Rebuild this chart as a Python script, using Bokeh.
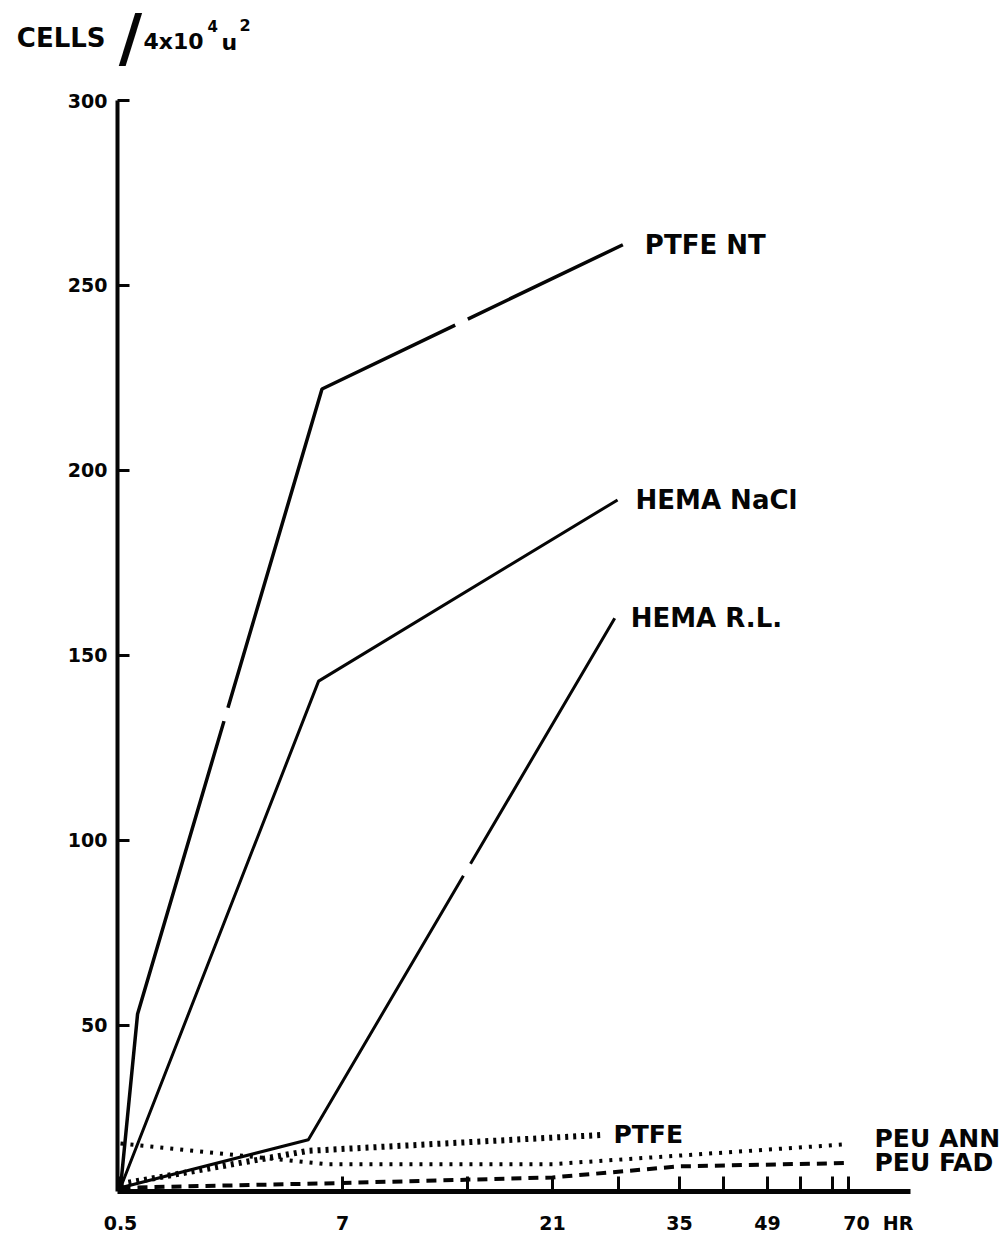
import numpy as np
from bokeh.plotting import figure
from bokeh.layouts import column
from bokeh.models import Range1d, FixedTicker, Label
from bokeh.embed import file_html
from bokeh.resources import INLINE

# ---------------- data ----------------
# hand-drawn, non-uniform time axis: breakpoints (hours) and their axis units
HOUR_BREAKS = [0.5, 7, 14, 21, 28, 35, 42, 49, 56, 63, 70]
AXIS_UNITS = [0, 222, 347, 432, 498, 559, 603, 647, 680, 712, 728]
NB = "\u00a0"
TICK_LABELS = {0.5: "0.5", 7: "7", 21: "21", 35: "35", 49: "49",
               70: NB * 9 + "70" + NB * 2 + "HR"}
Y_TICKS = [50, 100, 150, 200, 250, 300]

ptfe_nt_h = [0.5, 1.0, 6.4, 28.5]
ptfe_nt_v = [6, 53, 222, 261]

hema_nacl_h = [0.5, 6.3, 27.9]
hema_nacl_v = [6, 143, 192]

hema_rl_h = [0.5, 6.0, 27.6]
hema_rl_v = [6, 19, 160]

ptfe_h = [0.5, 6.0, 26.3]
ptfe_v = [7, 16, 20.3]

peu_ann_h = [0.5, 6.5, 21, 70]
peu_ann_v = [18, 12.4, 12.4, 17.8]

peu_fad_h = [0.5, 7, 21, 35, 70]
peu_fad_v = [6, 7.3, 8.8, 11.8, 12.7]

series_names = ["PTFE NT", "HEMA NaCl", "HEMA R.L.", "PTFE", "PEU ANN", "PEU FAD"]


def hx(h):
    return np.interp(h, HOUR_BREAKS, AXIS_UNITS)


FONT = "DejaVu Sans"
INK = "#050505"

# ---------------- layout geometry (page pixels) ----------------
HEAD_H = 88             # strip holding the y-axis unit title
FRAME_L, FRAME_T, FRAME_B = 117, 100, 1191
AXIS_END = 910          # where the drawn x axis line stops
FRAME_R = 1000          # frame continues right so end labels are not clipped
RIGHT_PAD = 4
X0 = -3
X1 = X0 + (FRAME_R - FRAME_L)
Y0, Y1 = 5, 300

# ---------------- header strip with the unit title ----------------
head = figure(
    frame_width=FRAME_R - FRAME_L, frame_height=HEAD_H,
    x_range=Range1d(FRAME_L, FRAME_R), y_range=Range1d(HEAD_H, 0),
    x_axis_location=None,
    output_backend="svg", toolbar_location=None,
    min_border_left=FRAME_L, min_border_right=RIGHT_PAD,
    min_border_top=0, min_border_bottom=0,
)
head.outline_line_color = None
head.grid.visible = False
# "CELLS" is set as the single label of the strip's (otherwise invisible) left axis
head.yaxis.ticker = FixedTicker(ticks=[37])
head.yaxis.major_label_overrides = {37: "CELLS"}
head.yaxis.axis_line_color = None
head.yaxis.major_tick_line_color = None
head.yaxis.minor_tick_line_color = None
head.yaxis.major_tick_out = 0
head.yaxis.major_tick_in = 0
head.yaxis.major_label_standoff = 12
head.yaxis.major_label_text_font = FONT
head.yaxis.major_label_text_font_style = "bold"
head.yaxis.major_label_text_font_size = "26px"
head.yaxis.major_label_text_color = INK

title_parts = [
    ("/", 130, 37, "64px", "center"),
    ("4x10", 143, 41, "22px", "left"),
    ("4", 207, 25, "15px", "left"),
    ("u", 221, 42, "22px", "left"),
    ("2", 239, 24, "16px", "left"),
]
for txt, px, py, fs, al in title_parts:
    head.add_layout(Label(
        x=px, y=py, text=txt, text_font=FONT, text_font_style="bold",
        text_font_size=fs, text_baseline="middle", text_align=al, text_color=INK,
    ))

# ---------------- main chart ----------------
p = figure(
    frame_width=FRAME_R - FRAME_L,
    frame_height=FRAME_B - FRAME_T,
    x_range=Range1d(X0, X1),
    y_range=Range1d(Y0, Y1),
    output_backend="svg",
    toolbar_location=None,
    min_border_left=FRAME_L,
    min_border_top=FRAME_T - HEAD_H,
    min_border_bottom=50,
    min_border_right=RIGHT_PAD,
)
p.outline_line_color = None
p.grid.visible = False
p.background_fill_color = "white"
p.border_fill_color = "white"

# x axis
xt = [float(hx(h)) for h in HOUR_BREAKS]
p.xaxis.ticker = FixedTicker(ticks=xt)
p.xaxis.major_label_overrides = {t: TICK_LABELS.get(h, "") for h, t in zip(HOUR_BREAKS, xt)}
p.xaxis.bounds = (X0, X0 + (AXIS_END - FRAME_L))
p.xaxis.axis_line_width = 5
p.xaxis.axis_line_color = INK
p.xaxis.major_tick_in = 15
p.xaxis.major_tick_out = 0
p.xaxis.major_tick_line_width = 3
p.xaxis.major_tick_line_color = INK
p.xaxis.minor_tick_line_color = None
p.xaxis.major_label_standoff = 20
p.xaxis.major_label_text_font = FONT
p.xaxis.major_label_text_font_style = "bold"
p.xaxis.major_label_text_font_size = "19px"
p.xaxis.major_label_text_color = INK

# y axis
p.yaxis.ticker = FixedTicker(ticks=Y_TICKS)
p.yaxis.axis_line_width = 4
p.yaxis.axis_line_color = INK
p.yaxis.major_tick_in = 12
p.yaxis.major_tick_out = 0
p.yaxis.major_tick_line_width = 3
p.yaxis.major_tick_line_color = INK
p.yaxis.minor_tick_line_color = None
p.yaxis.major_label_standoff = 10
p.yaxis.major_label_text_font = FONT
p.yaxis.major_label_text_font_style = "bold"
p.yaxis.major_label_text_font_size = "19px"
p.yaxis.major_label_text_color = INK

# ---------------- lines ----------------
# (hours, values, line style, label x offset px, label y offset px, label size)
styles = [
    (ptfe_nt_h, ptfe_nt_v, dict(line_width=3.5, line_dash="480 14"), 22, 0, "26px"),
    (hema_nacl_h, hema_nacl_v, dict(line_width=3), 18, 0, "26px"),
    (hema_rl_h, hema_rl_v, dict(line_width=3, line_dash="500 14"), 16, 0, "26px"),
    (ptfe_h, ptfe_v, dict(line_width=6, line_dash="3 5"), 11, 0, "25px"),
    (peu_ann_h, peu_ann_v, dict(line_width=4, line_dash="3 7"), 26, 6, "25px"),
    (peu_fad_h, peu_fad_v, dict(line_width=4, line_dash="10 7"), 26, 1, "25px"),
]

for name, (hs, vs, st, xoff, yoff, fs) in zip(series_names, styles):
    xs = hx(hs)
    p.line(xs, vs, line_color=INK, **st)
    p.add_layout(Label(
        x=float(xs[-1]), y=float(vs[-1]), x_offset=xoff, y_offset=yoff, text=name,
        text_font=FONT, text_font_style="bold", text_font_size=fs,
        text_baseline="middle", text_align="left", text_color=INK,
    ))

layout = column(head, p, spacing=0)
open("out.html", "w").write(file_html(layout, INLINE))
